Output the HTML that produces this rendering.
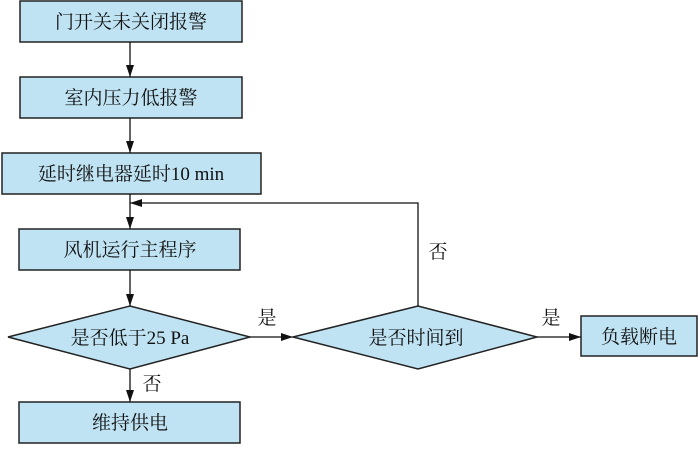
<!DOCTYPE html>
<html><head><meta charset="utf-8"><style>
body{margin:0;background:#fff}
text{font-family:"Liberation Serif","Noto Serif CJK SC",serif;font-size:19px;fill:#111}
</style></head><body>
<svg width="700" height="444" viewBox="0 0 700 444" xmlns="http://www.w3.org/2000/svg">
<defs><marker id="a" markerWidth="12" markerHeight="8" refX="12" refY="4" orient="auto" markerUnits="userSpaceOnUse"><path d="M0,0 L12,4 L0,8 Z" fill="#111"/></marker></defs>
<g fill="#bfe3f3" stroke="#222" stroke-width="1.5">
<rect x="20" y="1" width="222" height="41"/>
<rect x="20" y="77" width="222" height="41"/>
<rect x="2" y="153" width="259" height="41"/>
<rect x="19" y="229" width="221" height="41"/>
<polygon points="8,337 130,306 250,337 130,369"/>
<polygon points="293,337 418,306 537,337 418,369"/>
<rect x="581" y="316" width="116" height="40"/>
<rect x="19" y="402" width="221" height="41"/>
</g>
<g stroke="#111" stroke-width="1.3" fill="none">
<line x1="130" y1="42" x2="130" y2="77" marker-end="url(#a)"/>
<line x1="130" y1="118" x2="130" y2="153" marker-end="url(#a)"/>
<line x1="130" y1="194" x2="130" y2="229" marker-end="url(#a)"/>
<polyline points="418,306 418,203 130,203" marker-end="url(#a)"/>
<line x1="130" y1="270" x2="130" y2="306" marker-end="url(#a)"/>
<line x1="250" y1="337" x2="293" y2="337" marker-end="url(#a)"/>
<line x1="537" y1="337" x2="581" y2="337" marker-end="url(#a)"/>
<line x1="130" y1="369" x2="130" y2="402" marker-end="url(#a)"/>
</g>
<g text-anchor="middle">
<text x="131" y="28">门开关未关闭报警</text>
<text x="131" y="104">室内压力低报警</text>
<text x="131" y="180">延时继电器延时10 min</text>
<text x="130" y="256">风机运行主程序</text>
<text x="130" y="344">是否低于25 Pa</text>
<text x="416" y="344">是否时间到</text>
<text x="639" y="343">负载断电</text>
<text x="130" y="429">维持供电</text>
<text x="267" y="324">是</text>
<text x="551" y="324">是</text>
<text x="438" y="258">否</text>
<text x="152" y="390">否</text>
</g>
</svg>
</body></html>
